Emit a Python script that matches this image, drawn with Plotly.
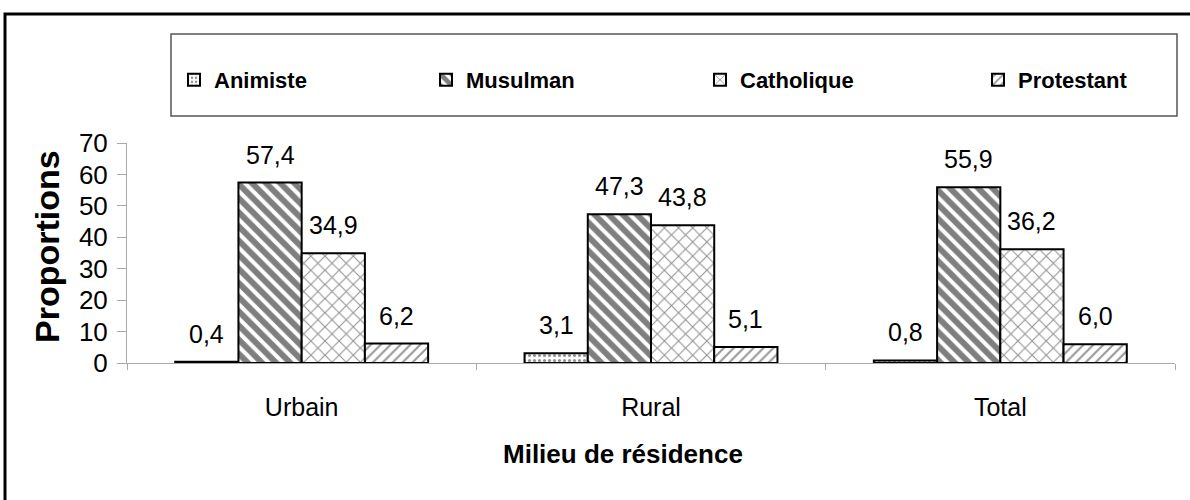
import plotly.graph_objects as go

milieux = ["Urbain", "Rural", "Total"]
religions = ["Animiste", "Musulman", "Catholique", "Protestant"]
animiste = [0.4, 3.1, 0.8]
musulman = [57.4, 47.3, 55.9]
catholique = [34.9, 43.8, 36.2]
protestant = [6.2, 5.1, 6.0]

series = [animiste, musulman, catholique, protestant]
patterns = [
    dict(shape=".", size=5, solidity=0.3, fgcolor="#222", bgcolor="white"),
    dict(shape="\\", size=10, solidity=0.6, fgcolor="black", bgcolor="white"),
    dict(shape="x", size=10, solidity=0.2, fgcolor="#222", bgcolor="white"),
    dict(shape="/", size=7, solidity=0.3, fgcolor="#333", bgcolor="white"),
]
# where each legend entry's text starts (screen px)
legend_x = [214, 466, 740, 1018]

W, H = 1190, 500
L, R, T, B = 127, 15, 143, 137
pw, ph = W - L - R, H - T - B
bargap = 0.276
FONT = "Liberation Sans, Arial, sans-serif"


def px(x):
    return (x - L) / pw


def py(y):
    return (H - B - y) / ph


fig = go.Figure()
legends = {}
for i, (name, vals, pat) in enumerate(zip(religions, series, patterns)):
    lg = "legend" if i == 0 else f"legend{i + 1}"
    fig.add_trace(go.Bar(
        x=milieux, y=vals, name=name, legend=lg, showlegend=True,
        marker=dict(color="white", pattern=pat, line=dict(color="black", width=2)),
    ))
    legends[lg] = dict(
        orientation="h", x=px(legend_x[i] - 40), xanchor="left",
        y=py(80), yanchor="middle", visible=True,
        font=dict(family=FONT, size=22, color="black", weight="bold"),
        bgcolor="rgba(0,0,0,0)", borderwidth=0,
    )

# value labels above bars (comma decimals)
bar_px = pw / len(milieux) * (1 - bargap) / len(religions)
annotations = []
for i, vals in enumerate(series):
    for m, v in zip(milieux, vals):
        annotations.append(dict(
            x=m, y=v, xref="x", yref="y", text=f"{v:.1f}".replace(".", ","),
            showarrow=False, yanchor="bottom", yshift=12,
            xshift=(i - 1.5) * bar_px,
            font=dict(family=FONT, size=25, color="black"),
        ))

# axis titles
annotations.append(dict(
    x=px(623), y=py(454), xref="paper", yref="paper", showarrow=False,
    xanchor="center", yanchor="middle",
    text="<b>Milieu de résidence</b>", font=dict(family=FONT, size=26, color="black"),
))
annotations.append(dict(
    x=px(47), y=py(247), xref="paper", yref="paper", showarrow=False, textangle=-90,
    xanchor="center", yanchor="middle",
    text="<b>Proportions</b>", font=dict(family=FONT, size=34, color="black"),
))

fig.update_layout(
    width=W, height=H,
    margin=dict(l=L, r=R, t=T, b=B),
    paper_bgcolor="white", plot_bgcolor="white",
    barmode="group", bargap=bargap, bargroupgap=0,
    font=dict(family=FONT, color="black"),
    showlegend=True,
    annotations=annotations,
    shapes=[
        # outer frame
        dict(type="rect", xref="paper", yref="paper",
             x0=px(5), x1=px(1196), y0=py(506), y1=py(14),
             line=dict(color="black", width=3), layer="below"),
        # legend frame
        dict(type="rect", xref="paper", yref="paper",
             x0=px(171), x1=px(1177), y0=py(116), y1=py(34),
             line=dict(color="#555", width=1.5)),
    ],
    **legends,
)

fig.update_xaxes(
    showline=True, linecolor="#aaa", linewidth=1,
    ticks="outside", tickson="boundaries", ticklen=6, tickcolor="#aaa",
    tickfont=dict(size=25), ticklabelstandoff=22,
)
fig.update_yaxes(
    range=[0, 70], dtick=10, showgrid=False, zeroline=False,
    showline=True, linecolor="#aaa", linewidth=1,
    ticks="outside", ticklen=9, tickcolor="#aaa",
    tickfont=dict(size=26), ticklabelstandoff=4,
)

# drop the browser's default 8px body margin so the page starts at 0,0
fig.write_html("out.html", config={"displayModeBar": False},
               post_script="document.body.style.margin='0';")
